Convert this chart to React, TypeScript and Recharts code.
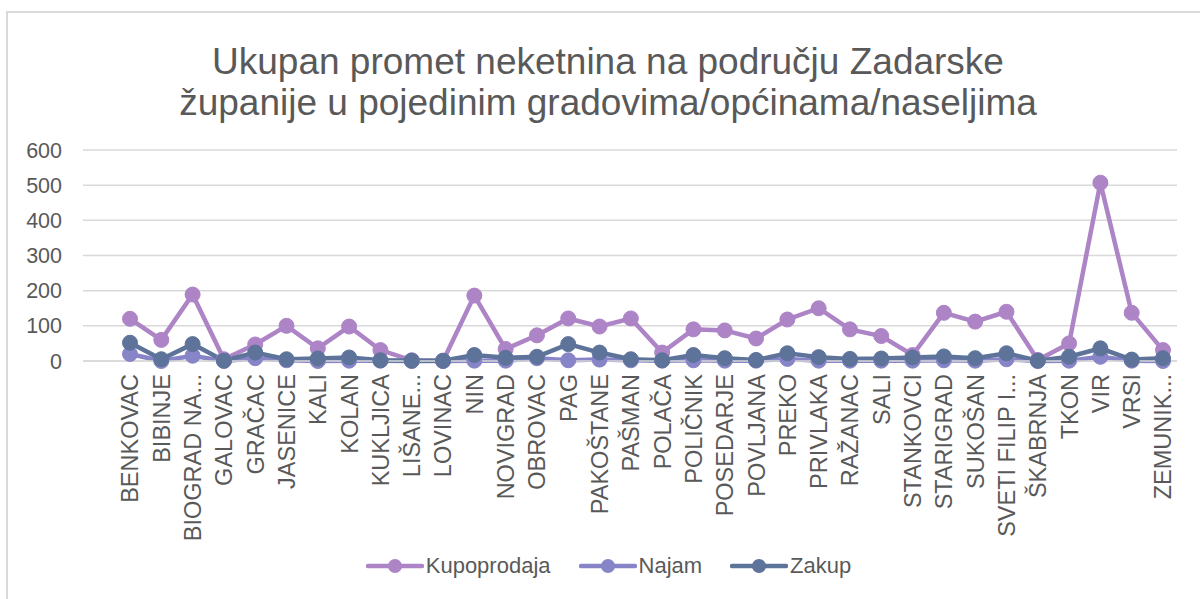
import React from "react";
import { LineChart, Line, CartesianGrid, XAxis, YAxis, Legend } from "recharts";

const categories = [
  "BENKOVAC", "BIBINJE", "BIOGRAD NA...", "GALOVAC", "GRAČAC", "JASENICE", "KALI", "KOLAN",
  "KUKLJICA", "LIŠANE...", "LOVINAC", "NIN", "NOVIGRAD", "OBROVAC", "PAG", "PAKOŠTANE",
  "PAŠMAN", "POLAČA", "POLIČNIK", "POSEDARJE", "POVLJANA", "PREKO", "PRIVLAKA", "RAŽANAC",
  "SALI", "STANKOVCI", "STARIGRAD", "SUKOŠAN", "SVETI FILIP I...", "ŠKABRNJA", "TKON", "VIR",
  "VRSI", "ZEMUNIK...",
];

const kupoprodaja = [
  120, 60, 189, 5, 47, 100, 36, 98, 31, 2, 0, 186, 34, 73, 121, 98,
  121, 24, 90, 87, 64, 118, 150, 90, 71, 17, 137, 112, 140, 3, 50, 507,
  137, 31,
];
const najam = [
  20, 0, 15, 0, 8, 2, 0, 1, 1, 0, 0, 1, 1, 8, 2, 4,
  2, 1, 2, 1, 1, 6, 1, 1, 1, 1, 2, 1, 5, 0, 1, 12,
  1, 0,
];
const zakup = [
  52, 5, 48, 1, 24, 5, 7, 10, 2, 1, 1, 17, 9, 12, 48, 24,
  5, 2, 17, 8, 3, 22, 11, 6, 7, 10, 13, 8, 22, 1, 12, 36,
  4, 8,
];

const yTicks = [0, 100, 200, 300, 400, 500, 600];

const data = categories.map((name, i) => ({
  name,
  Kupoprodaja: kupoprodaja[i],
  Najam: najam[i],
  Zakup: zakup[i],
}));

const TEXT = "#595959";
const FONT = "'Liberation Sans', Arial, sans-serif";

const XTick = (props: any) => {
  const { x, y, payload } = props;
  return (
    <g transform={`translate(${x},${y})`}>
      <text
        transform="rotate(-90)"
        textAnchor="end"
        dy="0.36em"
        fill={TEXT}
        fontSize={23.5}
        fontFamily={FONT}
      >
        {payload.value}
      </text>
    </g>
  );
};

const LegendContent = (props: any) => {
  const { payload } = props;
  return (
    <div style={{ display: "flex", justifyContent: "center", alignItems: "center", height: 30, paddingLeft: 68 }}>
      {payload.map((p: any) => (
        <div key={p.value} style={{ display: "flex", alignItems: "center", marginRight: 28 }}>
          <svg width={58} height={16}>
            <line x1={2} y1={8} x2={56} y2={8} stroke={p.color} strokeWidth={4.5} strokeLinecap="round" />
            <circle cx={29} cy={8} r={7} fill={p.color} />
          </svg>
          <span style={{ color: TEXT, fontSize: 22, fontFamily: FONT, marginLeft: 2 }}>{p.value}</span>
        </div>
      ))}
    </div>
  );
};

export default function App() {
  return (
    <div style={{ position: "absolute", left: 0, top: 0, width: 1200, height: 599, background: "#fff", overflow: "hidden" }}>
      <div
        style={{
          position: "absolute",
          left: 6,
          top: 11,
          width: 1210,
          height: 610,
          border: "2px solid #d9d9d9",
          boxSizing: "border-box",
        }}
      />
      <div
        style={{
          position: "absolute",
          left: 0,
          top: 41,
          width: 1216,
          textAlign: "center",
          color: TEXT,
          fontFamily: FONT,
          fontSize: 37,
          lineHeight: "41px",
        }}
      >
        Ukupan promet neketnina na području Zadarske
        <br />
        županije u pojedinim gradovima/općinama/naseljima
      </div>
      <div style={{ position: "absolute", left: 0, top: 0 }}>
        <LineChart width={1200} height={599} data={data} margin={{ top: 150, right: 23, left: 0, bottom: 18 }}>
          <CartesianGrid vertical={false} stroke="#d9d9d9" strokeWidth={1.5} />
          <XAxis
            dataKey="name"
            interval={0}
            height={190}
            padding={{ left: 47, right: 14 }}
            tickLine={false}
            tickSize={0}
            tickMargin={13}
            axisLine={{ stroke: "#d9d9d9", strokeWidth: 1.5 }}
            tick={<XTick />}
          />
          <YAxis
            domain={[0, 600]}
            ticks={yTicks}
            width={83}
            axisLine={false}
            tickLine={false}
            tickSize={0}
            tickMargin={21}
            tick={{ fill: TEXT, fontSize: 21.5, fontFamily: FONT }}
          />
          <Legend verticalAlign="bottom" content={<LegendContent />} />
          <Line dataKey="Kupoprodaja" stroke="#ad84c6" strokeWidth={4.5} dot={{ r: 7.5, fill: "#ad84c6", stroke: "#ad84c6", strokeWidth: 1 }} activeDot={false} isAnimationActive={false} />
          <Line dataKey="Najam" stroke="#8784c7" strokeWidth={4.5} dot={{ r: 7.5, fill: "#8784c7", stroke: "#8784c7", strokeWidth: 1 }} activeDot={false} isAnimationActive={false} />
          <Line dataKey="Zakup" stroke="#5d739a" strokeWidth={4.5} dot={{ r: 7.5, fill: "#5d739a", stroke: "#5d739a", strokeWidth: 1 }} activeDot={false} isAnimationActive={false} />
        </LineChart>
      </div>
    </div>
  );
}
